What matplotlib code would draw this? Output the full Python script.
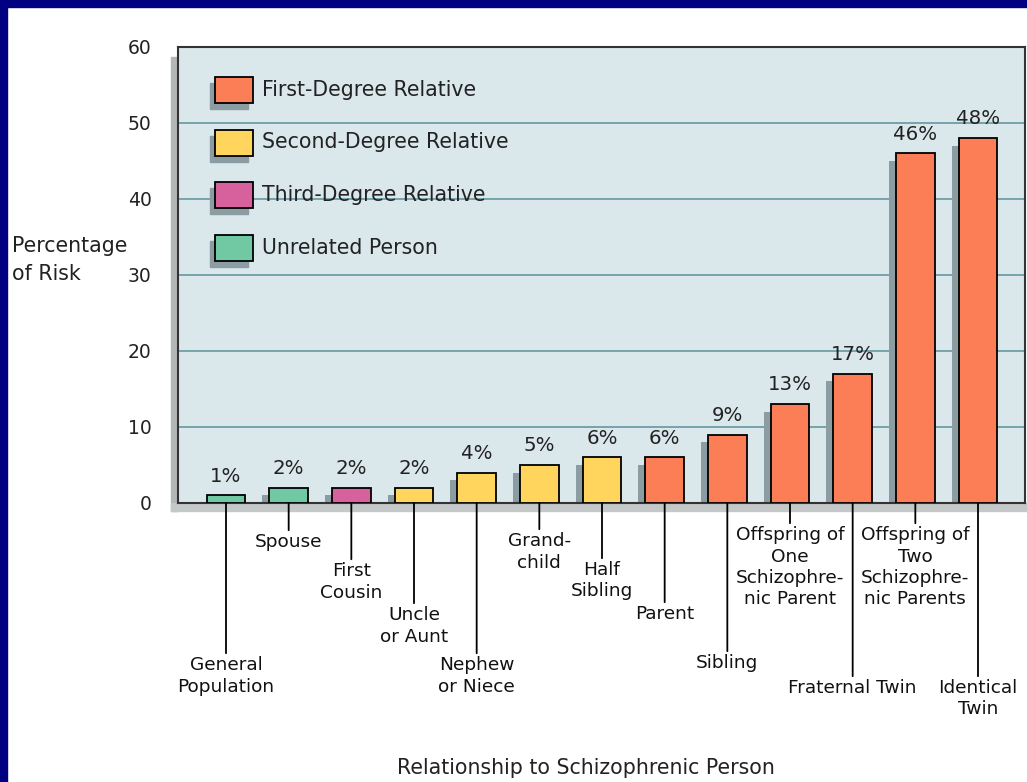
import matplotlib
matplotlib.use('Agg')
import matplotlib.pyplot as plt
from matplotlib.patches import Rectangle

# data
relations = ['General\nPopulation', 'Spouse', 'First\nCousin', 'Uncle\nor Aunt',
             'Nephew\nor Niece', 'Grand-\nchild', 'Half\nSibling', 'Parent',
             'Sibling', 'Offspring of\nOne\nSchizophre-\nnic Parent',
             'Fraternal Twin', 'Offspring of\nTwo\nSchizophre-\nnic Parents',
             'Identical\nTwin']
risk = [1, 2, 2, 2, 4, 5, 6, 6, 9, 13, 17, 46, 48]
degree = ['unrel', 'unrel', 'third', 'second', 'second', 'second', 'second',
          'first', 'first', 'first', 'first', 'first', 'first']
legend_names = ['First-Degree Relative', 'Second-Degree Relative',
                'Third-Degree Relative', 'Unrelated Person']
legend_keys = ['first', 'second', 'third', 'unrel']

colors = {'first': '#fb7e57', 'second': '#ffd55e',
          'third': '#d6619d', 'unrel': '#70c9a2'}
# how far each label hangs below the baseline (pixels)
label_drop = [153, 30, 59, 103, 153, 29, 58, 102, 151, 23, 176, 23, 176]

W, H = 1027, 782
fig = plt.figure(figsize=(W / 100, H / 100), dpi=100)
fig.patch.set_facecolor('white')
plt.rcParams['font.family'] = 'DejaVu Sans'
fs_cat = 13.3
fs_big = 14.8

# axes placed in pixels
L, R, T, B = 178, 1025, 47, 503
ax = fig.add_axes([L / W, 1 - B / H, (R - L) / W, (B - T) / H])
ax.set_facecolor('#dae7eb')


def px(x, y):
    # figure pixel (from top-left) -> figure fraction
    return x / W, 1 - y / H


# blue frame and gray plot-area shadow
fig.add_artist(Rectangle(px(0, H), 7 / W, 1, transform=fig.transFigure,
                         color='#000080', zorder=10))
fig.add_artist(Rectangle(px(0, 7), 1, 7 / H, transform=fig.transFigure,
                         color='#000080', zorder=10))
fig.add_artist(Rectangle(px(171, 511), 7 / W, (511 - 57) / H,
                         transform=fig.transFigure, color='#b3b7b8', zorder=0))
fig.add_artist(Rectangle(px(171, 511), (W - 171) / W, 8 / H,
                         transform=fig.transFigure, color='#c4c8c9', zorder=0))

x = list(range(len(risk)))
bar_c = [colors[d] for d in degree]
shadow = [max(v - 1.0, 0) for v in risk]
ax.bar([i - 0.11 for i in x], shadow, width=0.62, color='#8b9ca2', zorder=2)
ax.bar(x, risk, width=0.62, color=bar_c, edgecolor='black', linewidth=1.3,
       zorder=3)

for i, v in enumerate(risk):
    ax.annotate(f'{v}%', (i, v), xytext=(0, 7), textcoords='offset points',
                ha='center', va='bottom', fontsize=14.2, color='#222222')

# hanging category labels with leader lines
for i, name in enumerate(relations):
    ax.annotate(name, xy=(i, 0), xycoords=('data', 'axes fraction'),
                xytext=(0, -label_drop[i] * 0.72), textcoords='offset points',
                ha='center', va='top', fontsize=fs_cat, color='#111111',
                linespacing=1.25, annotation_clip=False,
                arrowprops=dict(arrowstyle='-', color='black', lw=1.3,
                                shrinkA=0, shrinkB=0))

ax.set_xlim(-0.766, 12.75)
ax.set_ylim(0, 60)
ax.set_yticks(range(0, 61, 10))
ax.set_xticks([])
ax.tick_params(axis='y', length=0, pad=19, labelsize=13.5, labelcolor='#222222')
ax.yaxis.grid(True, color='#6e9ea6', linewidth=1.3)
ax.set_axisbelow(True)
for s in ax.spines.values():
    s.set_color('#333333')
    s.set_linewidth(1.5)

# legend drawn by hand so the swatches get their shadow
for k, (name, key) in enumerate(zip(legend_names, legend_keys)):
    top = 77 + k * 52.5
    ax.add_patch(Rectangle(((210 - L) / (R - L), (B - top - 32) / (B - T)),
                           38 / (R - L), 26 / (B - T), transform=ax.transAxes,
                           color='#8b9ca2', zorder=4, clip_on=False))
    ax.add_patch(Rectangle(((215 - L) / (R - L), (B - top - 26) / (B - T)),
                           38 / (R - L), 26 / (B - T), transform=ax.transAxes,
                           facecolor=colors[key], edgecolor='black',
                           linewidth=1.3, zorder=5, clip_on=False))
    ax.text((262 - L) / (R - L), (B - top - 13) / (B - T), name,
            transform=ax.transAxes, va='center', ha='left', fontsize=fs_big,
            color='#222222', zorder=6)

fig.text(12 / W, 1 - 260 / H, 'Percentage\nof Risk', ha='left', va='center',
         fontsize=fs_big, color='#222222', linespacing=1.5)
fig.text(586 / W, 1 - 768 / H, 'Relationship to Schizophrenic Person',
         ha='center', va='center', fontsize=fs_big, color='#222222')

fig.savefig('out.png', dpi=100)
